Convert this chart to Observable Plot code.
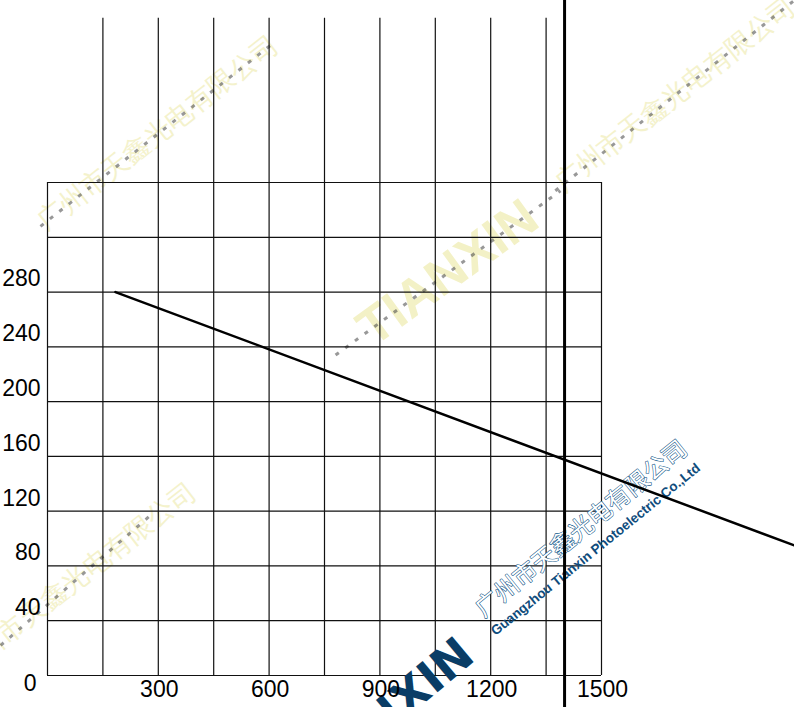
<!DOCTYPE html>
<html><head><meta charset="utf-8">
<script src="https://cdn.jsdelivr.net/npm/d3@7"></script>
<script src="https://cdn.jsdelivr.net/npm/@observablehq/plot@0.6"></script>
<style>body{margin:0;background:#fff}</style>
</head><body><div id="chart"></div>
<script>
// axis ticks
const xTicks = [300, 600, 900, 1200, 1500];
const yTicks = [40, 80, 120, 160, 200, 240, 280];
const zeroTick = [0];
// grid
const xInnerGrid = [150, 300, 450, 600, 750, 900, 1050, 1200, 1350];
const xBorder = [0, 1500];
const yGrid = [0, 40, 80, 120, 160, 200, 240, 280, 320, 360];
const innerGridTop = 480;
const frameTop = 360;
// curve
const curveX = [184, 2022];
const curveY = [280, 95];
// marker line
const markerX = [1400];
const markerSpan = [-24, 493];
// watermarks
const wmCN = "广州市天鑫光电有限公司";
const wmEN = "Guangzhou Tianxin Photoelectric Co.,Ltd";
const wmLogo = "TIANXIN";
const stripeX1 = [-19, 1375, -127, 780];
const stripeY1 = [328, 354, 22, 234];
const stripeX2 = [617, 2022, 279, 1389];
const stripeY2 = [463, 493, 117, 354];
const yellowCX = [299, 1700, 76];
const yellowCY = [396, 424, 70];
const logoMidX = [1084], logoMidY = [294];
const enX = [1484], enY = [92];
const cnBlueX = [1446], cnBlueY = [107];
const logoX = [915], logoY = [-30];

const stripes = stripeX1.map((d, i) => ({x1: d, y1: stripeY1[i], x2: stripeX2[i], y2: stripeY2[i]}));
const yellows = yellowCX.map((d, i) => ({x: d, y: yellowCY[i]}));

const plot = Plot.plot({
  width: 794, height: 707,
  marginLeft: 47, marginRight: 193, marginTop: 182, marginBottom: 32,
  x: {domain: [0, 1500]},
  y: {domain: [0, 360]},
  style: {fontFamily: "'Liberation Sans', Arial, sans-serif", fontSize: "23px", background: "white", overflow: "visible"},
  marks: [
    // watermark stripes (yellow)
    Plot.text(yellows, {x: "x", y: "y", text: () => wmCN, rotate: -38, fontSize: 27, fill: "#f4f2cc"}),
    Plot.text(logoMidX.map((d, i) => ({x: d, y: logoMidY[i]})), {x: "x", y: "y", text: () => wmLogo, rotate: -36, fontSize: 52, fill: "#f3f1c6", fontWeight: "bold"}),
    Plot.link(stripes, {x1: "x1", y1: "y1", x2: "x2", y2: "y2", stroke: "#444", strokeWidth: 3, strokeDasharray: "4,8", strokeOpacity: 0.55}),
    // grid
    Plot.ruleY(yGrid, {x1: 0, x2: 1500, stroke: "#111", strokeWidth: 1.2}),
    Plot.ruleX(xInnerGrid, {y1: 0, y2: innerGridTop, stroke: "#111", strokeWidth: 1.2}),
    Plot.ruleX(xBorder, {y1: 0, y2: frameTop, stroke: "#111", strokeWidth: 1.2}),
    // blue watermark
    Plot.text(cnBlueX.map((d, i) => ({x: d, y: cnBlueY[i]})), {x: "x", y: "y", text: () => wmCN, rotate: -39, fontSize: 24, fill: "white", stroke: "#1a5c8c", strokeWidth: 1.2, fontFamily: "'Noto Sans CJK SC', sans-serif"}),
    Plot.text(enX.map((d, i) => ({x: d, y: enY[i]})), {x: "x", y: "y", text: () => wmEN, rotate: -39, fontSize: 13.5, fontWeight: "bold", fill: "#0f4c7c", fontFamily: "Arial, 'Liberation Sans', sans-serif"}),
    Plot.text(logoX.map((d, i) => ({x: d, y: logoY[i]})), {x: "x", y: "y", text: () => wmLogo, rotate: -40, fontSize: 46, fontWeight: 900, fill: "#0a3d66", fontFamily: "'DejaVu Sans', sans-serif"}),
    // curve
    Plot.line(curveX.map((d, i) => ({x: d, y: curveY[i]})), {x: "x", y: "y", stroke: "#000", strokeWidth: 2.5}),
    // marker
    Plot.ruleX(markerX, {y1: markerSpan[0], y2: markerSpan[1], stroke: "#000", strokeWidth: 3}),
    // axes
    Plot.axisX(xTicks, {tickSize: 0, tickPadding: 5, dx: 1, fill: "#000", fontSize: 23, tickFormat: d => String(d)}),
    Plot.axisY(yTicks, {tickSize: 0, tickPadding: 7, dy: -13, fill: "#000", fontSize: 23, tickFormat: d => String(d)}),
    Plot.axisY(zeroTick, {tickSize: 0, tickPadding: 11, dy: 8, fill: "#000", fontSize: 23, tickFormat: d => String(d)})
  ]
});
document.getElementById("chart").appendChild(plot);
</script>
</body></html>
